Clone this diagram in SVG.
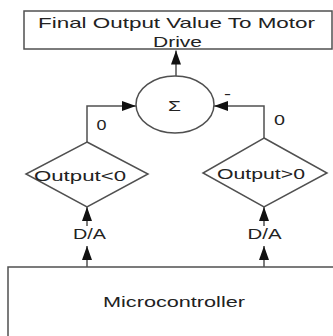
<svg xmlns="http://www.w3.org/2000/svg" width="333" height="336" viewBox="0 0 333 336">
<style>
.s{fill:none;stroke:#505050;stroke-width:1.5}
.b{fill:#fff;stroke:#505050;stroke-width:1.5}
.t{font-family:"Liberation Sans",Arial,sans-serif;font-size:15px;fill:#222;text-anchor:middle}
</style>
<defs>
<marker id="ah" markerUnits="userSpaceOnUse" markerWidth="14" markerHeight="10" refX="14" refY="5" orient="auto">
<path d="M0,0 L14,5 L0,10 z" fill="#111"/>
</marker>
</defs>
<rect width="333" height="336" fill="#fff"/>
<g id="connectors">
<path class="s" d="M176,76 V50.5" marker-end="url(#ah)"/>
<path class="s" d="M87,142 V106 H136" marker-end="url(#ah)"/>
<path class="s" d="M264,138 V106 H214" marker-end="url(#ah)"/>
<path class="s" d="M87,226 V207" marker-end="url(#ah)"/>
<path class="s" d="M87,267 V246" marker-end="url(#ah)"/>
<path class="s" d="M264,226 V207" marker-end="url(#ah)"/>
<path class="s" d="M264,267 V246" marker-end="url(#ah)"/>
<text class="t" x="101.5" y="130" textLength="10" lengthAdjust="spacingAndGlyphs">0</text>
<text class="t" x="279.5" y="125" textLength="11" lengthAdjust="spacingAndGlyphs">0</text>
<text class="t" x="227.5" y="98.5" textLength="7" lengthAdjust="spacingAndGlyphs">-</text>
<text class="t" x="89.5" y="239" textLength="33" lengthAdjust="spacingAndGlyphs">D/A</text>
<text class="t" x="264.5" y="239" textLength="34" lengthAdjust="spacingAndGlyphs">D/A</text>
</g>
<g id="output">
<rect class="b" x="24" y="11" width="308" height="38"/>
<text class="t" x="176.5" y="28" textLength="277" lengthAdjust="spacingAndGlyphs">Final Output Value  To Motor</text>
<text class="t" x="177.5" y="47" textLength="49" lengthAdjust="spacingAndGlyphs">Drive</text>
</g>
<g id="sum">
<ellipse class="b" cx="175" cy="104.5" rx="39" ry="28.5"/>
<text class="t" x="174.5" y="111" textLength="13" lengthAdjust="spacingAndGlyphs">Σ</text>
</g>
<g id="negative">
<polygon class="b" points="87,142 148,174 87,207 26,174"/>
<text class="t" x="80" y="181" textLength="92" lengthAdjust="spacingAndGlyphs">Output&lt;0</text>
</g>
<g id="positive">
<polygon class="b" points="264,138 327,173 264,207 203,173"/>
<text class="t" x="261" y="179" textLength="88" lengthAdjust="spacingAndGlyphs">Output&gt;0</text>
</g>
<g id="microcontroller">
<rect class="b" x="8" y="267" width="340" height="80"/>
<text class="t" x="174" y="307" textLength="142" lengthAdjust="spacingAndGlyphs">Microcontroller</text>
</g>
</svg>
